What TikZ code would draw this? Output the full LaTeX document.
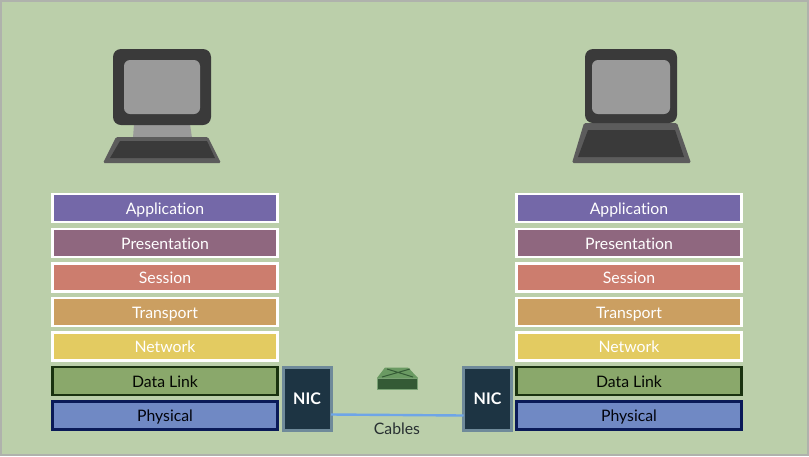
\documentclass[tikz,border=0pt]{standalone}
\usepackage{fontspec}
\setmainfont{Lato}[Ligatures=NoCommon]
\usepackage{tikz}
\definecolor{bg_green}{RGB}{187, 207, 170}
\definecolor{frame_gray}{RGB}{175, 178, 172}
\definecolor{app_col}{RGB}{116, 104, 168}
\definecolor{pres_col}{RGB}{143, 103, 127}
\definecolor{sess_col}{RGB}{204, 125, 110}
\definecolor{trans_col}{RGB}{203, 159, 97}
\definecolor{net_col}{RGB}{227, 203, 97}
\definecolor{link_col}{RGB}{138, 168, 107}
\definecolor{link_edge}{RGB}{26, 50, 16}
\definecolor{phys_col}{RGB}{112, 137, 196}
\definecolor{phys_edge}{RGB}{10, 26, 88}
\definecolor{nic_col}{RGB}{29, 52, 67}
\definecolor{nic_edge}{RGB}{111, 138, 154}
\definecolor{cable_col}{RGB}{110, 165, 232}
\definecolor{pc_dark}{RGB}{58, 58, 58}
\definecolor{pc_mid}{RGB}{92, 92, 92}
\definecolor{pc_light}{RGB}{154, 154, 154}
\definecolor{sw_top}{RGB}{106, 154, 98}
\definecolor{sw_front}{RGB}{52, 90, 53}
\definecolor{sw_edge}{RGB}{122, 162, 116}
\definecolor{text_dark}{RGB}{40, 48, 50}
\tikzstyle{layer}=[rectangle,draw=white,line width=2.6pt,text=white,font=\fontsize{15.8}{18}\selectfont,
  minimum width=225pt,minimum height=28pt,inner sep=0pt,outer sep=0pt,text height=13pt,text depth=1pt]
\tikzstyle{dl}=[layer,fill=link_col,draw=link_edge,text=black!85!link_edge]
\tikzstyle{ph}=[layer,fill=phys_col,draw=phys_edge,text=black!85!phys_edge]
\tikzstyle{nic}=[rectangle,fill=nic_col,draw=nic_edge,line width=3pt,text=white,
  font=\fontsize{16}{18}\selectfont\bfseries,minimum width=48pt,minimum height=63pt,inner sep=0pt,outer sep=0pt]
\tikzstyle{screen}=[rectangle,rounded corners=6pt,fill=pc_light,inner sep=0pt]
\tikzstyle{casing}=[rectangle,rounded corners=8pt,fill=pc_dark,inner sep=0pt]

\begin{document}
\begin{tikzpicture}[x=1pt,y=-1pt]
    \useasboundingbox (0,0) rectangle (809,456);
    \fill [bg_green] (0,0) rectangle (809,456);
    \draw [frame_gray,line width=1.6pt] (0.8,0.8) rectangle (808.2,455.2);
    % left computer
    \fill [pc_light] (134,124) -- (190,124) -- (192,138) -- (133,138) -- cycle;
    \node [style=casing,minimum width=98pt,minimum height=76pt] (monl) at (162,87) {};
    \node [style=screen,minimum width=76pt,minimum height=54pt] (scrl) at (162,87) {};
    \fill [pc_mid,rounded corners=1.5pt] (116,137) -- (208,137) -- (221,163) -- (103,163) -- cycle;
    \fill [pc_dark] (120,141) -- (207,141) -- (215,158) -- (110,158) -- cycle;
    % right computer
    \fill [pc_mid,rounded corners=1.5pt] (584,123) -- (677,123) -- (691,163) -- (572,163) -- cycle;
    \fill [pc_dark] (588,130) -- (675,130) -- (684,157) -- (578,157) -- cycle;
    \node [style=casing,minimum width=92pt,minimum height=74pt] (monr) at (631,86) {};
    \node [style=screen,minimum width=78pt,minimum height=54pt] (scrr) at (631,87) {};
    % left stack
    \node [style=layer,fill=app_col] (appl) at (165,208) {Application};
    \node [style=layer,fill=pres_col] (presl) at (165,243) {Presentation};
    \node [style=layer,fill=sess_col] (sessl) at (165,277.5) {Session};
    \node [style=layer,fill=trans_col] (transl) at (165,312) {Transport};
    \node [style=layer,fill=net_col] (netl) at (165,346.5) {Network};
    \node [style=dl] (linkl) at (165,381) {Data Link};
    \node [style=ph] (physl) at (165,415.5) {Physical};
    % right stack
    \node [style=layer,fill=app_col] (appr) at (629,208) {Application};
    \node [style=layer,fill=pres_col] (presr) at (629,243) {Presentation};
    \node [style=layer,fill=sess_col] (sessr) at (629,277.5) {Session};
    \node [style=layer,fill=trans_col] (transr) at (629,312) {Transport};
    \node [style=layer,fill=net_col] (netr) at (629,346.5) {Network};
    \node [style=dl] (linkr) at (629,381) {Data Link};
    \node [style=ph] (physr) at (629,415.5) {Physical};
    % nics and cable
    \node [style=nic] (nicl) at (307,398.5) {NIC};
    \node [style=nic] (nicr) at (487.5,398.5) {NIC};
    \draw [cable_col,line width=2.4pt] ([yshift=-16pt]nicl.east) to ([yshift=-17pt]nicr.west);
    \node [text=text_dark,font=\fontsize{15.8}{18}\selectfont] (cables) at (397,428.5) {Cables};
    % switch
    \fill [sw_top] (377,378) -- (385,367.5) -- (408,367.5) -- (418,378) -- cycle;
    \draw [sw_front,line width=1pt] (382,377) -- (410,369) (387,369) -- (413,377);
    \draw [sw_edge,fill=sw_front,line width=1pt] (377.5,378) rectangle (417.5,389.5);
  \end{tikzpicture}
\end{document}
